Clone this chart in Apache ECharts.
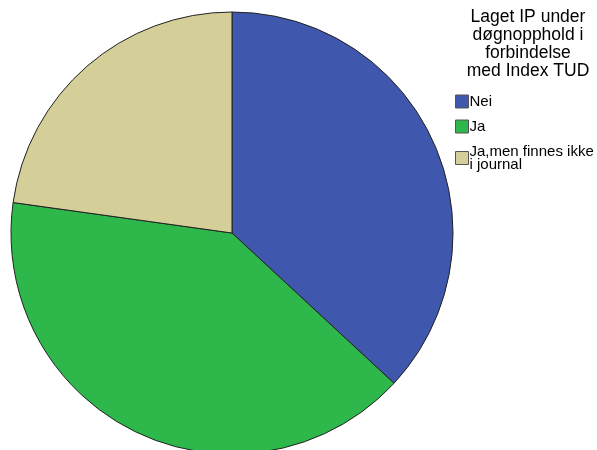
<!DOCTYPE html>
<html><head><meta charset="utf-8">
<script src="https://cdn.jsdelivr.net/npm/echarts@6/dist/echarts.min.js"></script>
<style>html,body{margin:0;padding:0;background:#fff}#c{width:597px;height:450px}</style>
</head><body><div id="c"></div>
<script>
const titleText = "Laget IP under\ndøgnopphold i\nforbindelse\nmed Index TUD";
const categories = ["Nei", "Ja", "Ja,men finnes ikke\ni journal"];
const values = [36.9, 40.3, 22.8];
const colors = ["#3F58AD", "#2EB84B", "#D4CE98"];

const chart = echarts.init(document.getElementById('c'), null, {renderer: 'canvas'});
chart.setOption({
  animation: false,
  backgroundColor: '#fff',
  title: {
    text: titleText,
    left: 523, top: 3, textAlign: 'center',
    textStyle: {fontFamily: 'Liberation Sans, Arial', fontSize: 17.5, fontWeight: 'normal', color: '#000', lineHeight: 18}
  },
  legend: {
    orient: 'vertical', left: 450, top: 89,
    icon: 'rect', itemWidth: 13, itemHeight: 13, itemGap: 10,
    itemStyle: {borderColor: '#555', borderWidth: 1},
    textStyle: {fontFamily: 'Liberation Sans, Arial', fontSize: 15, color: '#000', lineHeight: 13, padding: [0,0,0,-4]},
    data: categories
  },
  series: [{
    type: 'pie',
    center: [232, 233], radius: 221,
    startAngle: 90, clockwise: true,
    label: {show: false}, labelLine: {show: false},
    emphasis: {disabled: true},
    itemStyle: {borderColor: '#222', borderWidth: 1},
    data: categories.map((c, i) => ({name: c, value: values[i], itemStyle: {color: colors[i]}}))
  }],
  color: colors
});
</script></body></html>
